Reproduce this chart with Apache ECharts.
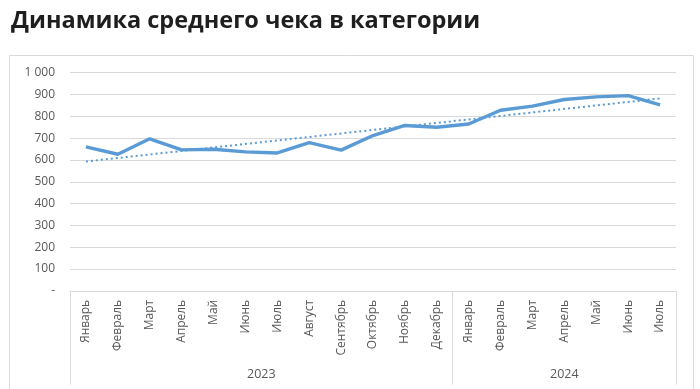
<!DOCTYPE html>
<html><head><meta charset="utf-8">
<script src="https://cdn.jsdelivr.net/npm/echarts@6/dist/echarts.min.js"></script>
<style>html,body{margin:0;padding:0;background:#fff}#c{width:700px;height:389px}</style>
</head><body><div id="c"></div>
<script>
const months = ['Январь','Февраль','Март','Апрель','Май','Июнь','Июль','Август','Сентябрь','Октябрь','Ноябрь','Декабрь','Январь','Февраль','Март','Апрель','Май','Июнь','Июль'];
const years = ['2023','2024'];
const yearSizes = [12, 7];
const avgCheck = [660,626,697,646,649,637,632,679,645,712,758,750,765,828,847,877,889,895,852];
const trendEnds = [593, 882];
const yTicks = [0,100,200,300,400,500,600,700,800,900,1000];

const chart = echarts.init(document.getElementById('c'), null, {renderer:'canvas'});
const n = months.length;
const bounds = [0]; yearSizes.forEach(s => bounds.push(bounds[bounds.length-1]+s));
const centers = yearSizes.map((s,i)=> bounds[i] + s/2);
const trendData = months.map((m,i)=> i===0 ? trendEnds[0] : (i===n-1 ? trendEnds[1] : null));
const font = '"Open Sans", "Noto Sans", sans-serif';

chart.setOption({
  animation:false,
  title:{text:'Динамика среднего чека в категории', left:6, top:4,
    textStyle:{fontFamily:font, fontWeight:'bold', fontSize:23.5, color:'#1e1e1e'}},
  graphic:[{type:'rect', shape:{x:9.5,y:55.5,width:684,height:340}, style:{fill:'none', stroke:'#d9d9d9', lineWidth:1}, silent:true}],
  grid:{left:70, right:24, top:72.7, bottom:98.2},
  xAxis:[{
    type:'category', data:months, boundaryGap:true,
    axisLine:{show:true, lineStyle:{color:'#d9d9d9'}},
    axisTick:{show:false},
    axisLabel:{rotate:90, interval:0, margin:9, fontSize:12, color:'#595959', fontFamily:font}
  },{
    type:'value', min:0, max:n, position:'bottom',
    axisLine:{show:false}, splitLine:{show:false},
    axisTick:{show:true, customValues:bounds, length:94, lineStyle:{color:'#d9d9d9'}},
    axisLabel:{customValues:centers, margin:77, fontSize:12.5, color:'#595959', fontFamily:font,
      formatter:v=>{const i=centers.indexOf(v); return i>=0?years[i]:'';}}
  }],
  yAxis:{type:'value', min:yTicks[0], max:yTicks[yTicks.length-1], interval:yTicks[1]-yTicks[0],
    axisLine:{show:false}, axisTick:{show:false},
    splitLine:{lineStyle:{color:'#d9d9d9'}},
    axisLabel:{margin:15, fontSize:12, color:'#595959', fontFamily:font,
      formatter:v=> v===0 ? '-' : (v>=1000 ? Math.floor(v/1000)+' '+String(v%1000).padStart(3,'0') : String(v))}
  },
  series:[{
    type:'line', data:avgCheck, xAxisIndex:0, symbol:'none',
    lineStyle:{color:'#5b9bd5', width:3.4}, z:3
  },{
    type:'line', data:trendData, xAxisIndex:0, connectNulls:true, symbol:'none',
    lineStyle:{color:'#5b9bd5', width:2, type:[2,3]}, z:2
  }]
});
</script></body></html>
